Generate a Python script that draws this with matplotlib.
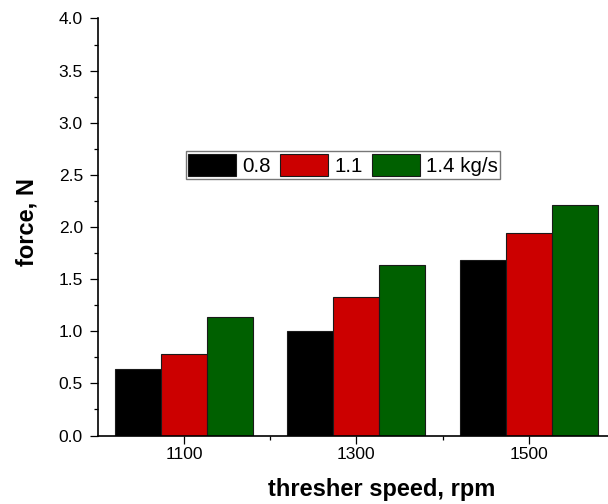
import matplotlib
matplotlib.use('Agg')
import matplotlib.pyplot as plt
import numpy as np
from matplotlib.ticker import MultipleLocator

plt.rcParams['font.family'] = ['Liberation Sans', 'DejaVu Sans']

speeds = ['1100', '1300', '1500']
feed_labels = ['0.8', '1.1', '1.4 kg/s']
force_08 = [0.64, 1.00, 1.68]
force_11 = [0.78, 1.33, 1.94]
force_14 = [1.14, 1.64, 2.21]
colors = ['#000000', '#cc0000', '#006000']

fig = plt.figure(figsize=[6.08, 5.04], dpi=100)
# axes run a bit past the right edge, as in the cropped original
ax = fig.add_axes([0.1607, 0.1359, 0.851, 0.8274])

x = np.arange(len(speeds))
w = 0.8 / 3
for i, vals in enumerate([force_08, force_11, force_14]):
    ax.bar(x + (i - 1) * w, vals, w, color=colors[i], edgecolor='#1a1a1a',
           linewidth=0.8, label=feed_labels[i])

ax.set_xlim(-0.5, 2.5)
ax.set_ylim(0, 4.0)
ax.set_xticks(x)
ax.set_xticklabels(speeds)
ax.set_xticks([0.5, 1.5], minor=True)
ax.yaxis.set_major_locator(MultipleLocator(0.5))
ax.yaxis.set_minor_locator(MultipleLocator(0.25))
ax.yaxis.set_major_formatter(plt.FormatStrFormatter('%.1f'))

for s in ['top', 'right']:
    ax.spines[s].set_visible(False)
for s in ['left', 'bottom']:
    ax.spines[s].set_linewidth(1.2)

ax.tick_params(which='major', direction='out', length=6, width=0.9, labelsize=12.5)
ax.tick_params(which='minor', direction='out', length=2.8, width=0.9)
ax.tick_params(axis='x', which='major', pad=2.5)
ax.tick_params(axis='y', which='major', pad=4.6)

ax.set_xlabel('thresher speed, rpm', fontsize=17, fontweight='bold')
ax.xaxis.label.set_va('baseline')
ax.xaxis.set_label_coords(0.5486, -0.145)
ax.set_ylabel('force, N', fontsize=17, fontweight='bold')
ax.yaxis.label.set_va('baseline')
ax.yaxis.set_label_coords(-0.125, 0.513)

leg = ax.legend(ncol=3, loc='upper left', bbox_to_anchor=(0.1701, 0.6823),
                fontsize=14.8, frameon=True, fancybox=False, edgecolor='#555555',
                handlelength=2.335, handleheight=1.3, handletextpad=0.29,
                columnspacing=0.45, borderpad=0.13, borderaxespad=0)
leg.get_frame().set_linewidth(1.0)

plt.savefig('out.png', dpi=100)
